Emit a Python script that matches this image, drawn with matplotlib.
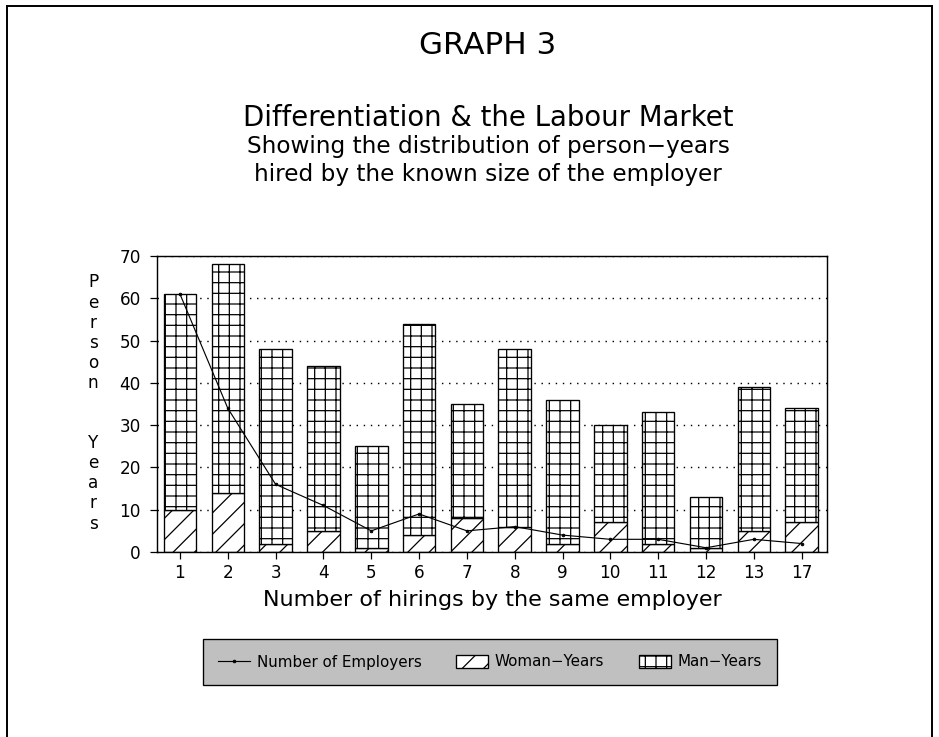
import matplotlib
matplotlib.use("Agg")
import matplotlib.pyplot as plt
import numpy as np
from matplotlib.lines import Line2D

# ---- data ----
categories = ["1", "2", "3", "4", "5", "6", "7", "8", "9", "10", "11", "12", "13", "17"]
total_years = [61, 68, 48, 44, 25, 54, 35, 48, 36, 30, 33, 13, 39, 34]
woman_years = [10, 14, 2, 5, 1, 4, 8, 6, 2, 7, 2, 1, 5, 7]
employers = [61, 34, 16, 11, 5, 9, 5, 6, 4, 3, 3, 1, 3, 2]
man_years = [t - w for t, w in zip(total_years, woman_years)]
yticks = [0, 10, 20, 30, 40, 50, 60, 70]

DPI = 64
plt.rcParams['font.family'] = ['DejaVu Sans']
plt.rcParams['hatch.linewidth'] = 1.4
plt.rcParams['hatch.color'] = 'black'

fig = plt.figure(figsize=(939 / DPI, 737 / DPI), dpi=DPI)
ax = fig.add_axes([157 / 939, 1 - 552 / 737, 670 / 939, 296 / 737])

x = np.arange(len(categories))
bw = 0.68
b_w = ax.bar(x, woman_years, bw, color='white', edgecolor='black', linewidth=1.5,
             hatch='/', zorder=2)
b_m = ax.bar(x, man_years, bw, bottom=woman_years, color='white', edgecolor='black',
             linewidth=1.5, hatch='+', zorder=2)
ln, = ax.plot(x, employers, color='black', linewidth=1.3, marker='o', markersize=3,
              zorder=3)

ax.set_xlim(-0.48, 13.53)
ax.set_ylim(0, 70)
ax.set_yticks(yticks)
ax.set_xticks(x)
ax.set_xticklabels(categories)
ax.yaxis.grid(True, linestyle=(0, (1, 4)), color='black', linewidth=1.6, zorder=1)
ax.set_axisbelow(True)
for s in ax.spines.values():
    s.set_linewidth(1.6)
ax.tick_params(axis='both', direction='out', length=8, width=1.4, labelsize=19)
ax.tick_params(axis='y', pad=10)
ax.tick_params(axis='x', pad=6)
ax.set_xlabel("Number of hirings by the same employer", fontsize=25, labelpad=8)

# vertical stacked y label
ylab = "\n".join(list("Person") + ["", ""] + list("Years"))
fig.text(93 / 939, 1 - 403 / 737, ylab, fontsize=19, ha='center', va='center',
         linespacing=1.15)

# titles
cx = 488 / 939
fig.text(cx, 1 - 45 / 737, "GRAPH 3", fontsize=35, ha='center', va='center')
fig.text(cx, 1 - 118 / 737, "Differentiation & the Labour Market", fontsize=31,
         ha='center', va='center')
fig.text(cx, 1 - 147 / 737, "Showing the distribution of person\u2212years", fontsize=26,
         ha='center', va='center')
fig.text(cx, 1 - 175 / 737, "hired by the known size of the employer", fontsize=26,
         ha='center', va='center')

# legend
leg = fig.legend([ln, b_w, b_m], ["Number of Employers", "Woman\u2212Years", "Man\u2212Years"],
                 loc='center', bbox_to_anchor=(490 / 939, 1 - 662 / 737), ncol=3,
                 fontsize=17, frameon=True, fancybox=False, edgecolor='black',
                 facecolor='#c0c0c0', framealpha=1, borderpad=1.0, columnspacing=2.3,
                 handlelength=2.1, handleheight=0.9, handletextpad=0.45)
leg.get_frame().set_linewidth(1.5)

# outer frame
fig.add_artist(Line2D([7 / 939, 7 / 939], [0, 1 - 6 / 737], color='black', lw=2.2))
fig.add_artist(Line2D([7 / 939, 932 / 939], [1 - 6 / 737, 1 - 6 / 737], color='black', lw=2.2))
fig.add_artist(Line2D([932 / 939, 932 / 939], [0, 1 - 6 / 737], color='black', lw=2.2))

fig.savefig("out.png", dpi=DPI)
